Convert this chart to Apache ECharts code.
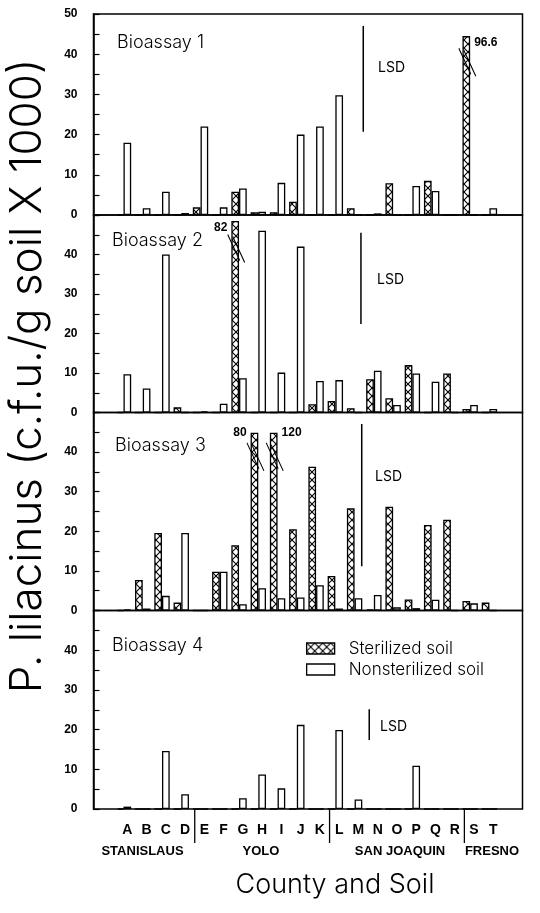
<!DOCTYPE html>
<html><head><meta charset="utf-8">
<script src="https://cdn.jsdelivr.net/npm/echarts@6/dist/echarts.min.js"></script>
<style>html,body{margin:0;padding:0;background:#fff}#c{width:540px;height:913px}</style>
</head><body><div id="c"></div>
<script>
// ---------------- data ----------------
const categories = ['A','B','C','D','E','F','G','H','I','J','K','L','M','N','O','P','Q','R','S','T'];
const counties = ['STANISLAUS','YOLO','SAN JOAQUIN','FRESNO'];
const countySizes = [4, 7, 7, 2];
const bioassays = ['Bioassay 1','Bioassay 2','Bioassay 3','Bioassay 4'];
const seriesNames = ['Sterilized soil','Nonsterilized soil'];
const yTicks = [0, 10, 20, 30, 40, 50];

const sterilized1    = [0,0,0,0,1.9,0,5.8,0.7,0.7,3.3,0,0,1.7,0,7.9,0,8.5,0,96.6,0];
const nonsterilized1 = [18,1.7,5.8,0.5,22,1.9,6.6,0.8,8.0,20,22,29.8,0,0.4,0,7.2,6.0,0,0,1.7];
const sterilized2    = [0,0,0,1.3,0,0,82,0,0,0,2.1,2.9,1.1,8.4,3.6,12.0,0,9.9,0.9,0];
const nonsterilized2 = [9.7,6.1,40,0,0.3,2.2,8.7,46,10.1,42,8.0,8.2,0,10.6,1.9,9.9,7.8,0,1.9,0.9];
const sterilized3    = [0,7.7,19.6,2.0,0,9.8,16.5,80,120,20.5,36.3,8.7,25.8,0.3,26.2,2.8,21.6,22.9,2.4,2.0];
const nonsterilized3 = [0.3,0.5,3.7,19.6,0,9.8,1.6,5.6,3.1,3.3,6.4,0.5,3.1,3.9,0.8,0.6,2.7,0,1.8,0];
const sterilized4    = [0,0,0,0,0,0,0,0,0,0,0,0,0,0,0,0,0,0,0,0];
const nonsterilized4 = [0.6,0,14.6,3.7,0,0,2.7,8.7,5.2,21.2,0,19.9,2.4,0,0,10.9,0,0,0,0];

// bars that run off the scale are drawn broken at this height
const brokenTop   = [44.5, 48.5, 44.9, null];
const breakMarkAt = [38, 41.5, 38.8, null];
// LSD bars (position in category units, low and high end)
const lsdX    = [12.25, 12.13, 12.17, 12.56];
const lsdLow  = [20.7, 22.4, 11.2, 17.4];
const lsdHigh = [47.0, 45.5, 47.1, 25.1];

const sterilized = [sterilized1, sterilized2, sterilized3, sterilized4];
const nonsterilized = [nonsterilized1, nonsterilized2, nonsterilized3, nonsterilized4];

// ---------------- layout ----------------
const panelTop = [14, 215, 412.5, 610.5];
const panelBottom = [215, 412.5, 610.5, 809];
const frameLeft = 93.5, frameRight = 522.5;
const dataLeft = 117.7, dataRight = 502.9;
const spacing = (dataRight - dataLeft) / categories.length;
const centerA = dataLeft + spacing / 2;
const xMin = (frameLeft - centerA) / spacing;
const xMax = (frameRight - centerA) / spacing;
const barW = 7.7;
const thin = "Inter, 'Liberation Sans', sans-serif";
const bold = "'Liberation Sans', Arial, sans-serif";
const breakLabelSide = [{S:'right'}, {G:'left'}, {H:'left', I:'right'}, {}];
const breakLabelDy = [7, 7, 0, 0];

function hatch() {
  const c = document.createElement('canvas');
  c.width = 8; c.height = 8;
  const g = c.getContext('2d');
  g.fillStyle = '#fff'; g.fillRect(0, 0, 8, 8);
  g.strokeStyle = '#000'; g.lineWidth = 1.1;
  g.beginPath();
  g.moveTo(0, 0); g.lineTo(8, 8);
  g.moveTo(8, 0); g.lineTo(0, 8);
  g.stroke();
  return c;
}
const hatchFill = { image: hatch(), repeat: 'repeat' };

const grid = [], xAxis = [], yAxis = [], series = [];
for (let p = 0; p < 4; p++) {
  grid.push({ left: frameLeft, width: frameRight - frameLeft, top: panelTop[p], height: panelBottom[p] - panelTop[p],
    show: true, borderColor: '#000', borderWidth: 1.5, backgroundColor: 'transparent', outerBoundsMode: 'none' });
}
for (let p = 0; p < 4; p++) {
  grid.push({ left: dataLeft, width: dataRight - dataLeft, top: panelTop[p], height: panelBottom[p] - panelTop[p],
    show: false, outerBoundsMode: 'none' });
}
for (let p = 0; p < 4; p++) {
  xAxis.push({ type: 'value', gridIndex: p, min: xMin, max: xMax, show: false });
  yAxis.push({ type: 'value', gridIndex: p, min: 0, max: 50, interval: 5,
    axisLine: { show: true, onZero: false, lineStyle: { color: '#000', width: 1.5 } },
    axisTick: { show: true, inside: true, length: 6, lineStyle: { color: '#000', width: 1.2 } },
    splitLine: { show: false },
    axisLabel: { color: '#000', fontFamily: bold, fontWeight: 'bold', fontSize: 12, margin: 16,
      formatter: v => (yTicks.indexOf(v) >= 0 && (v < 50 || p === 0)) ? String(v) : '' } });
}
for (let p = 0; p < 4; p++) {
  xAxis.push({ type: 'category', gridIndex: 4 + p, data: categories, boundaryGap: true,
    axisLine: { show: false }, axisTick: { show: false },
    axisLabel: { show: p === 3, color: '#000', fontFamily: bold, fontWeight: 'bold', fontSize: 14, margin: 14 } });
  yAxis.push({ type: 'value', gridIndex: 4 + p, min: 0, max: 50, show: false });
}

function barItem(v, p, i) {
  const cap = brokenTop[p];
  if (cap != null && v > cap) {
    const side = breakLabelSide[p][categories[i]] || 'right';
    return { value: cap, label: { show: true, formatter: String(v),
      position: side === 'right' ? ['100%', 0] : [0, 0],
      align: side === 'right' ? 'left' : 'right', verticalAlign: 'middle',
      offset: side === 'right' ? [4, breakLabelDy[p]] : [-4, breakLabelDy[p]],
      fontFamily: bold, fontWeight: 'bold', fontSize: 12, color: '#000' } };
  }
  return v;
}

for (let p = 0; p < 4; p++) {
  const common = { type: 'bar', xAxisIndex: 4 + p, yAxisIndex: 4 + p, barWidth: barW, barGap: '0%', silent: true, animation: false };
  series.push(Object.assign({}, common, { name: seriesNames[0],
    itemStyle: { color: hatchFill, borderColor: '#000', borderWidth: 1.3 },
    data: sterilized[p].map((v, i) => barItem(v, p, i)) }));
  series.push(Object.assign({}, common, { name: seriesNames[1],
    itemStyle: { color: '#fff', borderColor: '#000', borderWidth: 1.3 },
    data: nonsterilized[p].map((v, i) => barItem(v, p, i)) }));
  series.push(Object.assign({}, common, { name: '_pad', data: categories.map(() => null) }));
  const brk = [];
  sterilized[p].forEach((v, i) => { if (brokenTop[p] != null && v > brokenTop[p]) brk.push([categories[i], breakMarkAt[p]]); });
  if (brk.length) series.push({ type: 'scatter', xAxisIndex: 4 + p, yAxisIndex: 4 + p, silent: true, animation: false,
    symbol: 'path://M0,0L12,26M5,2L17,28', symbolSize: [17, 28], symbolOffset: [-barW + 1, 0],
    itemStyle: { color: 'rgba(0,0,0,0)', borderColor: '#000', borderWidth: 1.2, opacity: 1 }, data: brk, z: 5 });
  series.push({ type: 'line', xAxisIndex: p, yAxisIndex: p, silent: true, animation: false, symbol: 'none',
    lineStyle: { color: '#000', width: 1.5 }, data: [[lsdX[p], lsdLow[p]], [lsdX[p], lsdHigh[p]]] });
}
const dividerPos = [];
countySizes.reduce((acc, n, k) => { if (k < countySizes.length - 1) dividerPos.push(acc + n - 0.5); return acc + n; }, 0);
series.push({ type: 'custom', xAxisIndex: 3, yAxisIndex: 3, clip: false, silent: true, animation: false,
  data: dividerPos.map(x => [x, 0]),
  renderItem: (params, api) => {
    const pt = api.coord([api.value(0), 0]);
    return { type: 'line', shape: { x1: pt[0], y1: pt[1], x2: pt[0], y2: pt[1] + 34 }, style: { stroke: '#000', lineWidth: 1.3 } };
  } });

const bioPos = [[117, 43], [112, 241], [115, 446], [112, 646]];
const lsdPos = [[378, 68], [377, 280], [375, 477], [380, 727]];
const countyPos = [142.5, 261, 400, 492];
const graphic = [];
bioassays.forEach((t, p) => graphic.push({ type: 'text', x: bioPos[p][0], y: bioPos[p][1], silent: true,
  style: { text: t, align: 'left', verticalAlign: 'middle', font: '300 18px ' + thin, fill: '#000' } }));
lsdPos.forEach(pos => graphic.push({ type: 'text', x: pos[0], y: pos[1], silent: true,
  style: { text: 'LSD', align: 'left', verticalAlign: 'middle', font: '14px ' + thin, fill: '#000' } }));
counties.forEach((t, k) => graphic.push({ type: 'text', x: countyPos[k], y: 851, silent: true,
  style: { text: t, align: 'center', verticalAlign: 'middle', font: 'bold 13px ' + bold, fill: '#000' } }));
graphic.push({ type: 'text', x: 335, y: 885, silent: true,
  style: { text: 'County and Soil', align: 'center', verticalAlign: 'middle', font: '300 27px ' + thin, fill: '#000' } });
graphic.push({ type: 'text', x: 28, y: 376, rotation: Math.PI / 2, silent: true,
  style: { text: 'P. lilacinus (c.f.u./g soil X 1000)', align: 'center', verticalAlign: 'middle', font: '300 44px ' + thin, fill: '#000' } });

const chart = echarts.init(document.getElementById('c'), null, { renderer: 'canvas' });
chart.setOption({
  animation: false,
  backgroundColor: '#fff',
  grid, xAxis, yAxis, series, graphic,
  legend: { orient: 'vertical', left: 306, top: 640, itemWidth: 28, itemHeight: 11, itemGap: 4, icon: 'rect',
    selectedMode: false, data: seriesNames, padding: 0,
    itemStyle: { borderColor: '#000', borderWidth: 1.3 },
    textStyle: { fontSize: 17, fontWeight: 300, fontFamily: thin, color: '#000', padding: [0, 0, 0, 9] } }
});
</script>
</body></html>
